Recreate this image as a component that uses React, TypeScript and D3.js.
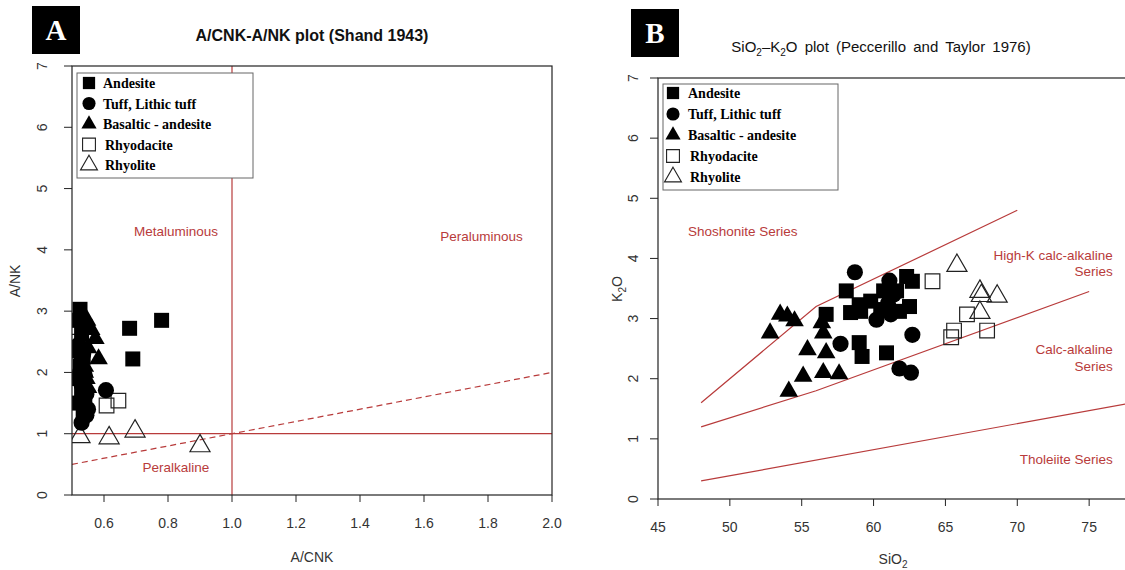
import React, { useRef, useEffect } from "react";
import * as d3 from "d3";

type Pt = [number, number];

const rockTypes = ["Andesite", "Tuff, Lithic tuff", "Basaltic - andesite", "Rhyodacite", "Rhyolite"];

// Panel A: [A/CNK, A/NK]
const andesiteA: Pt[] = [
  [0.525, 3.03], [0.52, 2.85], [0.54, 2.75], [0.53, 2.62], [0.52, 2.35], [0.535, 2.25],
  [0.525, 2.1], [0.52, 1.9], [0.53, 1.7], [0.54, 1.55], [0.52, 1.5], [0.535, 1.35],
  [0.68, 2.72], [0.69, 2.22], [0.78, 2.85],
];
const tuffA: Pt[] = [
  [0.53, 1.18], [0.545, 1.3], [0.55, 1.4], [0.54, 1.45], [0.535, 1.6], [0.545, 1.65],
  [0.53, 1.8], [0.54, 1.95], [0.525, 2.0], [0.53, 2.2], [0.535, 2.3], [0.52, 2.45],
  [0.606, 1.71],
];
const basalticA: Pt[] = [
  [0.547, 2.85], [0.56, 2.7], [0.573, 2.55], [0.583, 2.22], [0.55, 2.4], [0.54, 2.1],
  [0.545, 1.9], [0.55, 1.75], [0.54, 2.0],
];
const rhyodaciteA: Pt[] = [[0.51, 2.5], [0.608, 1.46], [0.645, 1.54]];
const rhyoliteA: Pt[] = [[0.525, 0.95], [0.616, 0.93], [0.697, 1.04], [0.9, 0.8]];

// Panel B: [SiO2, K2O]
const andesiteB: Pt[] = [
  [56.7, 3.07], [58.1, 3.46], [58.4, 3.1], [59.1, 3.12], [59.0, 3.23], [59.8, 3.29],
  [60.5, 3.15], [60.7, 3.46], [61.6, 3.46], [61.8, 3.12], [62.3, 3.7], [62.7, 3.62],
  [62.5, 3.2], [59.0, 2.6], [59.2, 2.37], [60.9, 2.43],
];
const tuffB: Pt[] = [
  [58.7, 3.77], [61.1, 3.63], [61.4, 3.4], [60.2, 2.98], [61.2, 3.07], [62.7, 2.73],
  [61.8, 2.17], [62.6, 2.1], [57.7, 2.58], [61.0, 3.25],
];
const basalticB: Pt[] = [
  [53.5, 3.07], [54.0, 3.04], [54.5, 2.96], [52.8, 2.76], [56.4, 2.93], [56.5, 2.76],
  [55.4, 2.48], [56.7, 2.43], [55.1, 2.04], [56.5, 2.1], [57.6, 2.08], [54.1, 1.79],
];
const rhyodaciteB: Pt[] = [[64.1, 3.62], [66.5, 3.07], [65.6, 2.8], [65.4, 2.69], [67.9, 2.8]];
const rhyoliteB: Pt[] = [[65.8, 3.88], [67.4, 3.45], [67.5, 3.38], [68.6, 3.37], [67.4, 3.1]];

const xTicksA = [0.6, 0.8, 1.0, 1.2, 1.4, 1.6, 1.8, 2.0];
const xTicksB = [45, 50, 55, 60, 65, 70, 75];
const yTicks = [0, 1, 2, 3, 4, 5, 6, 7];

// Shand boundaries
const aluminaLine: Pt[] = [[0.5, 0.5], [2.0, 2.0]];
// Peccerillo & Taylor boundaries
const tholeiiteLine: Pt[] = [[48, 0.3], [78, 1.6]];
const calcAlkLine: Pt[] = [[48, 1.2], [56, 1.8], [75, 3.45]];
const highKLine: Pt[] = [[48, 1.6], [56, 3.2], [70, 4.8]];

const RED = "#b83b3b";
const INK = "#222";
const SANS = "Liberation Sans, Arial, sans-serif";
const SERIF = "Liberation Serif, Times New Roman, serif";

const markers = [
  { type: d3.symbolSquare, filled: true, size: 225, legend: 150 },
  { type: d3.symbolCircle, filled: true, size: 205, legend: 135 },
  { type: d3.symbolTriangle, filled: true, size: 150, legend: 100 },
  { type: d3.symbolSquare, filled: false, size: 215, legend: 165 },
  { type: d3.symbolTriangle, filled: false, size: 175, legend: 125 },
];

const drawPoints = (g: any, sets: Pt[][], x: any, y: any) => {
  // hollow symbols first, filled ones on top
  [3, 4, 0, 1, 2].forEach((i) => {
    const m = markers[i];
    g.selectAll(null)
      .data(sets[i])
      .enter()
      .append("path")
      .attr("d", d3.symbol().type(m.type).size(m.size)())
      .attr("transform", (d: Pt) => `translate(${x(d[0])},${y(d[1])})`)
      .attr("fill", m.filled ? "#000" : "none")
      .attr("stroke", m.filled ? "none" : INK)
      .attr("stroke-width", 1.2);
  });
};

const drawLegend = (g: any, left: number, top: number, w: number, h: number, firstRow: number, step: number, symX: number, textX: number) => {
  g.append("rect")
    .attr("x", left).attr("y", top).attr("width", w).attr("height", h)
    .attr("fill", "#fff").attr("stroke", "#666").attr("stroke-width", 1);
  rockTypes.forEach((name, i) => {
    const m = markers[i];
    const cy = firstRow + i * step;
    g.append("path")
      .attr("d", d3.symbol().type(m.type).size(m.legend)())
      .attr("transform", `translate(${symX},${cy})`)
      .attr("fill", m.filled ? "#000" : "none")
      .attr("stroke", m.filled ? "none" : INK)
      .attr("stroke-width", 1.1);
    g.append("text")
      .attr("x", textX + (m.filled ? 0 : 2))
      .attr("y", cy + 5)
      .attr("font-family", SERIF)
      .attr("font-weight", "bold")
      .attr("font-size", 14)
      .attr("fill", "#000")
      .text(name);
  });
};

const drawAxes = (g: any, x: any, y: any, xTicks: number[], fmt: (v: number) => string, xLabelY: number, yLabelX: number) => {
  const [x0] = x.range();
  const [y0] = y.range();
  xTicks.forEach((v) => {
    g.append("line").attr("x1", x(v)).attr("x2", x(v)).attr("y1", y0).attr("y2", y0 + 7)
      .attr("stroke", INK);
    g.append("text").attr("x", x(v)).attr("y", xLabelY).attr("text-anchor", "middle")
      .attr("font-family", SANS).attr("font-size", 14).attr("fill", "#333").text(fmt(v));
  });
  yTicks.forEach((v) => {
    g.append("line").attr("x1", x0).attr("x2", x0 - 8).attr("y1", y(v)).attr("y2", y(v))
      .attr("stroke", INK);
    g.append("text")
      .attr("transform", `translate(${yLabelX},${y(v)}) rotate(-90)`)
      .attr("text-anchor", "middle")
      .attr("font-family", SANS).attr("font-size", 14).attr("fill", "#333").text(v);
  });
};

const panelLetter = (g: any, left: number, top: number, letter: string) => {
  g.append("rect").attr("x", left).attr("y", top).attr("width", 48).attr("height", 48).attr("fill", "#000");
  g.append("text").attr("x", left + 24).attr("y", top + 34).attr("text-anchor", "middle")
    .attr("font-family", SERIF).attr("font-weight", "bold").attr("font-size", 29)
    .attr("fill", "#fff").text(letter);
};

const App = () => {
  const ref = useRef<SVGSVGElement>(null);

  useEffect(() => {
    const svg = d3.select(ref.current);
    svg.selectAll("*").remove();

    const line = (x: any, y: any) => d3.line<Pt>().x((d) => x(d[0])).y((d) => y(d[1]));
    const defs = svg.append("defs");
    const clip = (id: string, x: any, y: any) => {
      const [xa, xb] = x.range();
      const [ya, yb] = y.range();
      defs.append("clipPath").attr("id", id).append("rect")
        .attr("x", xa).attr("y", yb).attr("width", xb - xa).attr("height", ya - yb);
      return `url(#${id})`;
    };

    // ---------- Panel A ----------
    const xA = d3.scaleLinear().domain([0.5, 2.0]).range([72, 552]);
    const yA = d3.scaleLinear().domain([0, 7]).range([495, 66]);
    const gA = svg.append("g");
    const plotA = gA.append("g").attr("clip-path", clip("clipA", xA, yA));

    panelLetter(gA, 32, 6, "A");
    gA.append("text").attr("x", 312).attr("y", 41).attr("text-anchor", "middle")
      .attr("font-family", SANS).attr("font-weight", "bold").attr("font-size", 16)
      .attr("fill", "#111").text("A/CNK-A/NK plot (Shand 1943)");

    // boundaries
    plotA.append("line").attr("x1", xA(1.0)).attr("x2", xA(1.0)).attr("y1", yA(0)).attr("y2", yA(7))
      .attr("stroke", RED).attr("stroke-width", 1.2);
    plotA.append("line").attr("x1", xA(0.5)).attr("x2", xA(2.0)).attr("y1", yA(1)).attr("y2", yA(1))
      .attr("stroke", RED).attr("stroke-width", 1.2);
    plotA.append("path").attr("d", line(xA, yA)(aluminaLine)).attr("fill", "none")
      .attr("stroke", RED).attr("stroke-width", 1.2).attr("stroke-dasharray", "6,4");

    const labelsA = [
      { text: "Metaluminous", x: 0.825, y: 4.23 },
      { text: "Peraluminous", x: 1.78, y: 4.15 },
      { text: "Peralkaline", x: 0.825, y: 0.37 },
    ];
    labelsA.forEach((l) => {
      plotA.append("text").attr("x", xA(l.x)).attr("y", yA(l.y)).attr("text-anchor", "middle")
        .attr("font-family", SANS).attr("font-size", 13.5).attr("fill", RED).text(l.text);
    });

    drawPoints(plotA, [andesiteA, tuffA, basalticA, rhyodaciteA, rhyoliteA], xA, yA);
    gA.append("rect").attr("x", 72).attr("y", 66).attr("width", 480).attr("height", 429)
      .attr("fill", "none").attr("stroke", INK).attr("stroke-width", 1.2);
    drawAxes(gA, xA, yA, xTicksA, (v) => v.toFixed(1), 528, 47);
    drawLegend(gA, 77, 73, 176, 105, 83, 20.5, 89, 103);

    gA.append("text").attr("x", 312).attr("y", 562).attr("text-anchor", "middle")
      .attr("font-family", SANS).attr("font-size", 14).attr("fill", "#333").text("A/CNK");
    gA.append("text").attr("transform", `translate(20,281) rotate(-90)`).attr("text-anchor", "middle")
      .attr("font-family", SANS).attr("font-size", 14).attr("fill", "#333").text("A/NK");

    // ---------- Panel B ----------
    const xB = d3.scaleLinear().domain([45, 80]).range([658, 1161]);
    const yB = d3.scaleLinear().domain([0, 7]).range([499, 78]);
    const gB = svg.append("g");
    const plotB = gB.append("g").attr("clip-path", clip("clipB", xB, yB));

    panelLetter(gB, 631, 9, "B");
    const tB = gB.append("text").attr("x", 881).attr("y", 52).attr("text-anchor", "middle")
      .attr("font-family", SANS).attr("font-size", 15).attr("fill", "#111")
      .attr("word-spacing", 3);
    tB.append("tspan").text("SiO");
    tB.append("tspan").attr("dy", 4).attr("font-size", 10).text("2");
    tB.append("tspan").attr("dy", -4).text("\u2013K");
    tB.append("tspan").attr("dy", 4).attr("font-size", 10).text("2");
    tB.append("tspan").attr("dy", -4).text("O plot (Peccerillo and Taylor 1976)");

    [tholeiiteLine, calcAlkLine, highKLine].forEach((pts) => {
      plotB.append("path").attr("d", line(xB, yB)(pts)).attr("fill", "none")
        .attr("stroke", RED).attr("stroke-width", 1.2);
    });

    const labelsB = [
      { text: "Shoshonite Series", x: 50.9, y: 4.38, anchor: "middle" },
      { text: "High-K calc-alkaline", x: 76.65, y: 3.98, anchor: "end" },
      { text: "Series", x: 76.65, y: 3.71, anchor: "end" },
      { text: "Calc-alkaline", x: 76.65, y: 2.41, anchor: "end" },
      { text: "Series", x: 76.65, y: 2.13, anchor: "end" },
      { text: "Tholeiite Series", x: 76.65, y: 0.58, anchor: "end" },
    ];
    labelsB.forEach((l) => {
      plotB.append("text").attr("x", xB(l.x)).attr("y", yB(l.y)).attr("text-anchor", l.anchor)
        .attr("font-family", SANS).attr("font-size", 13.5).attr("fill", RED).text(l.text);
    });

    drawPoints(plotB, [andesiteB, tuffB, basalticB, rhyodaciteB, rhyoliteB], xB, yB);
    gB.append("rect").attr("x", 658).attr("y", 78).attr("width", 503).attr("height", 421)
      .attr("fill", "none").attr("stroke", INK).attr("stroke-width", 1.2);
    drawAxes(gB, xB, yB, xTicksB, (v) => String(v), 532, 638);
    drawLegend(gB, 663, 84, 175, 106, 93, 21, 673, 688);

    const sx = gB.append("text").attr("x", 893).attr("y", 564).attr("text-anchor", "middle")
      .attr("font-family", SANS).attr("font-size", 14).attr("fill", "#333");
    sx.append("tspan").text("SiO");
    sx.append("tspan").attr("dy", 4).attr("font-size", 10).text("2");

    const ky = gB.append("text").attr("transform", `translate(622,289) rotate(-90)`)
      .attr("text-anchor", "middle").attr("font-family", SANS).attr("font-size", 14).attr("fill", "#333");
    ky.append("tspan").text("K");
    ky.append("tspan").attr("dy", 4).attr("font-size", 10).text("2");
    ky.append("tspan").attr("dy", -4).text("O");
  }, []);

  return (
    <svg
      ref={ref}
      width={1125}
      height={570}
      style={{ position: "absolute", left: 0, top: 0, background: "#fff" }}
    ></svg>
  );
};

export default App;
